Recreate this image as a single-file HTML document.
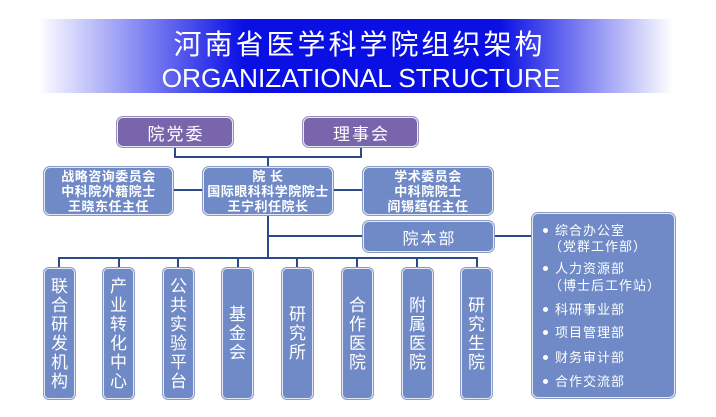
<!DOCTYPE html>
<html><head><meta charset="utf-8">
<style>
*{margin:0;padding:0;box-sizing:border-box}
html,body{width:716px;height:417px;background:#fff;overflow:hidden}
body{position:relative;font-family:"Liberation Sans","Noto Sans CJK SC",sans-serif}
.banner{position:absolute;left:40px;top:19px;width:640px;height:74px;
background:linear-gradient(to right,#ffffff 0%,#f2f3ff 1.3%,#0a10e4 31.7%,#0a10e4 71.9%,#ffffff 98.9%)}
.t1{position:absolute;left:0;width:716px;top:31px;height:28px;line-height:28px;text-align:center;color:#fff;font-size:28px;letter-spacing:3px;padding-left:3px;font-family:"Liberation Sans","Noto Sans CJK SC",sans-serif}
.t2{position:absolute;left:0;width:722px;top:63px;height:30px;line-height:30px;text-align:center;color:#fff;font-size:26.3px;font-family:"Liberation Sans",sans-serif}
.ln{position:absolute;background:#2b4a8b}
.bx{position:absolute;background:#6f8ac6;border:1.5px solid #e3e9f6;box-shadow:0 0 0 1px #8b9bc2;border-radius:6px;color:#fff;display:flex;align-items:center;justify-content:center;text-align:center;font-family:"Liberation Sans","Noto Sans CJK SC",sans-serif}
.pu{background:#7965ab;box-shadow:0 0 0 1px #9a8fbd}
.hd{font-size:13px;font-weight:700;line-height:15px;letter-spacing:0.5px}
.vt{font-size:17px;line-height:19px;width:31px;top:268px;height:131px;border-radius:5px}
.it{position:absolute;color:#fff;font-size:13px;line-height:16px;letter-spacing:1px;white-space:nowrap;font-family:"Liberation Sans","Noto Sans CJK SC",sans-serif}
.dot{position:absolute;width:5px;height:5px;border-radius:50%;background:#fff}
</style></head><body>
<div class="banner"></div>
<div class="t1">河南省医学科学院组织架构</div>
<div class="t2">ORGANIZATIONAL STRUCTURE</div>

<!-- connectors -->
<div class="ln" style="left:174px;top:147px;width:2px;height:11px"></div>
<div class="ln" style="left:360px;top:147px;width:2px;height:11px"></div>
<div class="ln" style="left:174px;top:156px;width:188px;height:2px"></div>
<div class="ln" style="left:267px;top:156px;width:2px;height:12px"></div>
<div class="ln" style="left:173px;top:189px;width:31px;height:2px"></div>
<div class="ln" style="left:332px;top:189px;width:32px;height:2px"></div>
<div class="ln" style="left:267px;top:214px;width:2px;height:45px"></div>
<div class="ln" style="left:267px;top:235px;width:97px;height:2px"></div>
<div class="ln" style="left:493px;top:235px;width:40px;height:2px"></div>
<div class="ln" style="left:58px;top:257px;width:420px;height:2px"></div>
<div class="ln" style="left:58px;top:257px;width:2px;height:12px"></div>
<div class="ln" style="left:118px;top:257px;width:2px;height:12px"></div>
<div class="ln" style="left:177px;top:257px;width:2px;height:12px"></div>
<div class="ln" style="left:237px;top:257px;width:2px;height:12px"></div>
<div class="ln" style="left:296px;top:257px;width:2px;height:12px"></div>
<div class="ln" style="left:356px;top:257px;width:2px;height:12px"></div>
<div class="ln" style="left:416px;top:257px;width:2px;height:12px"></div>
<div class="ln" style="left:476px;top:257px;width:2px;height:12px"></div>

<!-- top purple -->
<div class="bx pu" style="left:117px;top:117px;width:116px;height:30px;font-size:17px;letter-spacing:2px;padding-left:2px">院党委</div>
<div class="bx pu" style="left:303px;top:117px;width:115px;height:30px;font-size:17px;letter-spacing:2px;padding-left:2px">理事会</div>

<!-- second row -->
<div class="bx hd" style="left:44px;top:167px;width:129px;height:48px">战略咨询委员会<br>中科院外籍院士<br>王晓东任主任</div>
<div class="bx hd" style="left:203px;top:167px;width:130px;height:48px">院 长<br>国际眼科科学院院士<br>王宁利任院长</div>
<div class="bx hd" style="left:363px;top:167px;width:130px;height:48px">学术委员会<br>中科院院士<br>阎锡蕴任主任</div>

<div class="bx" style="left:363px;top:221px;width:131px;height:31px;font-size:16px;letter-spacing:2px;padding-left:2px">院本部</div>

<!-- bottom vertical boxes -->
<div class="bx vt" style="left:44px">联<br>合<br>研<br>发<br>机<br>构</div>
<div class="bx vt" style="left:103px">产<br>业<br>转<br>化<br>中<br>心</div>
<div class="bx vt" style="left:163px">公<br>共<br>实<br>验<br>平<br>台</div>
<div class="bx vt" style="left:222px">基<br>金<br>会</div>
<div class="bx vt" style="left:282px">研<br>究<br>所</div>
<div class="bx vt" style="left:342px">合<br>作<br>医<br>院</div>
<div class="bx vt" style="left:402px">附<br>属<br>医<br>院</div>
<div class="bx vt" style="left:461px">研<br>究<br>生<br>院</div>

<!-- right panel -->
<div class="bx" style="left:532px;top:213px;width:143px;height:185px"></div>
<div class="dot" style="left:543px;top:228px"></div>
<div class="it" style="left:555px;top:223px">综合办公室</div>
<div class="it" style="left:549px;top:239px">（党群工作部）</div>
<div class="dot" style="left:543px;top:266px"></div>
<div class="it" style="left:555px;top:261px">人力资源部</div>
<div class="it" style="left:549px;top:278px">（博士后工作站）</div>
<div class="dot" style="left:543px;top:307px"></div>
<div class="it" style="left:555px;top:302px">科研事业部</div>
<div class="dot" style="left:543px;top:330px"></div>
<div class="it" style="left:555px;top:325px">项目管理部</div>
<div class="dot" style="left:543px;top:355px"></div>
<div class="it" style="left:555px;top:350px">财务审计部</div>
<div class="dot" style="left:543px;top:379px"></div>
<div class="it" style="left:555px;top:374px">合作交流部</div>
</body></html>
